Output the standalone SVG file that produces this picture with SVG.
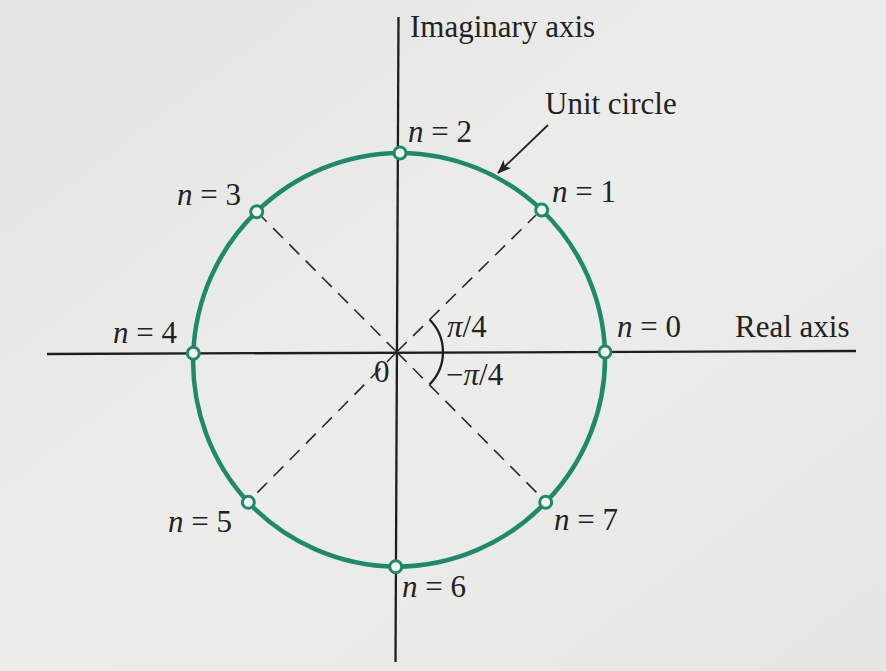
<svg xmlns="http://www.w3.org/2000/svg" width="886" height="671" viewBox="0 0 886 671">
<style>
text{font-family:"Liberation Serif","Times New Roman",serif;font-size:31px;fill:#222}
.it{font-style:italic}
.axis{stroke:#1e1e1e;stroke-width:2.3;fill:none}
.dash{stroke:#2a2a2a;stroke-width:1.6;stroke-dasharray:14 9;fill:none}
.ring{stroke:#1e8a6c;stroke-width:4.5;fill:none}
.pt{fill:#f4f4f2;stroke:#1e8a6c;stroke-width:3}
</style>
<defs>
<linearGradient id="bg" x1="0" y1="0" x2="1" y2="1">
<stop offset="0" stop-color="#e4e5e3"/>
<stop offset="0.5" stop-color="#ecedeb"/>
<stop offset="1" stop-color="#e6e7e5"/>
</linearGradient>
<marker id="ah" markerWidth="14" markerHeight="11" refX="13" refY="5.5" orient="auto" markerUnits="userSpaceOnUse">
<path d="M0,0 L14,5.5 L0,11 L3.5,5.5 Z" fill="#222"/>
</marker>
</defs>
<rect width="886" height="671" fill="url(#bg)"/>
<g id="axes">
<line class="axis" x1="398.5" y1="17" x2="395.5" y2="662"/>
<line class="axis" x1="47" y1="354" x2="856" y2="351"/>
<text x="410" y="37">Imaginary axis</text>
<text x="735" y="337">Real axis</text>
<text x="374" y="382">0</text>
</g>
<g id="connectors">
<path class="dash" d="M396.7,352 L536,215"/>
<path class="dash" d="M396.7,352 L253,497"/>
<path class="dash" d="M396.7,352 L262,217"/>
<path class="dash" d="M396.7,352 L541,497"/>
<path class="axis" d="M429.5,319.5 A46,46 0 0 1 429.5,384.5" stroke-width="2"/>
<line x1="548" y1="125" x2="498" y2="173" stroke="#222" stroke-width="1.8" marker-end="url(#ah)"/>
</g>
<g id="unit-circle">
<path class="ring" d="M605,352 A207,207 0 0 0 541.7,210 A207,207 0 0 0 400,153 A207,207 0 0 0 256.7,211.7 A207,207 0 0 0 193.3,353.3 A207,207 0 0 0 248.3,502.3 A207,207 0 0 0 395.7,566.7 A207,207 0 0 0 545.7,502.3 A207,207 0 0 0 605,352 Z"/>
<text x="545" y="114">Unit circle</text>
</g>
<g id="angle-labels">
<text x="447" y="337"><tspan class="it">π</tspan>/4</text>
<text x="446" y="385">−<tspan class="it">π</tspan>/4</text>
</g>
<g id="n0"><circle class="pt" cx="605" cy="352" r="6"/><text x="617" y="337"><tspan class="it">n</tspan> = 0</text></g>
<g id="n1"><circle class="pt" cx="541.7" cy="210" r="6"/><text x="552" y="202"><tspan class="it">n</tspan> = 1</text></g>
<g id="n2"><circle class="pt" cx="400" cy="153" r="6"/><text x="408" y="142"><tspan class="it">n</tspan> = 2</text></g>
<g id="n3"><circle class="pt" cx="256.7" cy="211.7" r="6"/><text x="177" y="205"><tspan class="it">n</tspan> = 3</text></g>
<g id="n4"><circle class="pt" cx="193.3" cy="353.3" r="6"/><text x="113" y="343"><tspan class="it">n</tspan> = 4</text></g>
<g id="n5"><circle class="pt" cx="248.3" cy="502.3" r="6"/><text x="168" y="532"><tspan class="it">n</tspan> = 5</text></g>
<g id="n6"><circle class="pt" cx="395.7" cy="566.7" r="6"/><text x="402" y="597"><tspan class="it">n</tspan> = 6</text></g>
<g id="n7"><circle class="pt" cx="545.7" cy="502.3" r="6"/><text x="554" y="530"><tspan class="it">n</tspan> = 7</text></g>
</svg>
